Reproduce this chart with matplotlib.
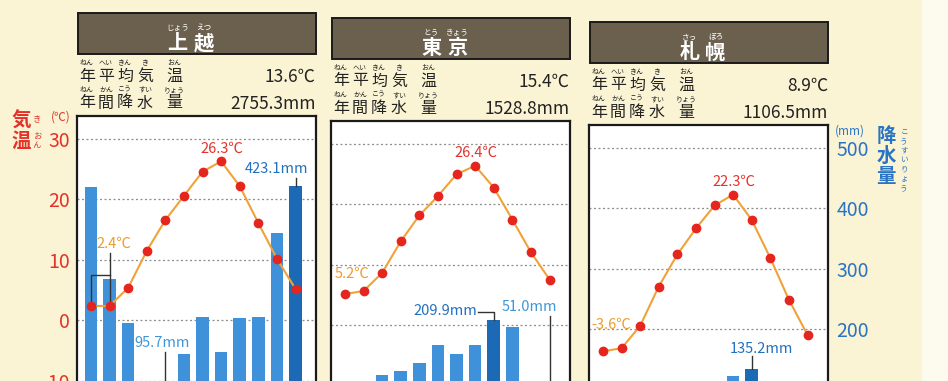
import numpy as np
import matplotlib.pyplot as plt
from matplotlib.patches import Rectangle

plt.rcParams['font.family'] = ['Noto Sans CJK JP', 'DejaVu Sans']
plt.rcParams['axes.unicode_minus'] = False

# --- data -------------------------------------------------------------
months = np.arange(12)

cities = ['上越', '東京', '札幌']
city_kana = [['じょう', 'えつ'], ['とう', 'きょう'], ['さっ', 'ぽろ']]
mean_temp = ['13.6℃', '15.4℃', '8.9℃']
annual_prec = ['2755.3mm', '1528.8mm', '1106.5mm']

joetsu_temp = [2.4, 2.4, 5.4, 11.5, 16.6, 20.6, 24.6, 26.3, 22.2, 16.1, 10.2, 5.2]
joetsu_prec = [421.0, 268.0, 196.0, 98.0, 95.7, 145.0, 206.0, 148.0, 204.0, 205.0, 345.0, 423.1]
tokyo_temp = [5.2, 5.7, 8.7, 13.9, 18.2, 21.4, 25.0, 26.4, 22.8, 17.5, 12.1, 7.6]
tokyo_prec = [52.3, 56.1, 117.5, 124.5, 137.8, 167.7, 153.5, 168.2, 209.9, 197.8, 92.5, 51.0]
sapporo_temp = [-3.6, -3.1, 0.6, 7.1, 12.4, 16.7, 20.5, 22.3, 18.1, 11.8, 4.9, -0.9]
sapporo_prec = [113.6, 94.0, 77.8, 56.8, 53.1, 46.8, 81.0, 123.8, 135.2, 108.7, 104.1, 111.7]

temps = [joetsu_temp, tokyo_temp, sapporo_temp]
precs = [joetsu_prec, tokyo_prec, sapporo_prec]

temp_ticks = [-10, 0, 10, 20, 30]
prec_ticks = [100, 200, 300, 400, 500]
prec_labels = ['', '200', '300', '400', '500']

row1 = ['年', '平', '均', '気', '温']
row1_kana = ['ねん', 'へい', 'きん', 'き', 'おん']
row2 = ['年', '間', '降', '水', '量']
row2_kana = ['ねん', 'かん', 'こう', 'すい', 'りょう']

# --- style ------------------------------------------------------------
W, H = 948, 381
BG = '#fbf4d4'
RED = '#e4322a'
ORANGE = '#eb9c2e'
LINE = '#f0a238'
BLUE = '#3f92da'
DBLUE = '#1c69b6'
TXT_DBLUE = '#2270c0'
TXT_LBLUE = '#3f97da'
AXBLUE = '#2a74c4'
BROWN = '#6b604e'

PXT = 10 / 60.5      # deg C per pixel
PXM = 100 / 60.5     # mm per pixel
TOP_T = 33.8

def fx(x):
    return x / W

def fy(y):
    return 1 - y / H

fig = plt.figure(figsize=(W / 100, H / 100), dpi=100)
fig.patch.set_facecolor(BG)
fig.add_artist(Rectangle((fx(922), 0), fx(W) - fx(922), 1, transform=fig.transFigure,
                         color='#fdfaee', zorder=0))

def ptext(x, y, s, **kw):
    kw.setdefault('ha', 'center')
    kw.setdefault('va', 'center')
    fig.text(fx(x), fy(y), s, **kw)

panel_x = [77, 331, 589]
panel_shift = [0, 5, 9]
pw = 239
ph = (TOP_T + 20) * 10 / PXM

axes = []
for i in range(3):
    x0, s = panel_x[i], panel_shift[i]
    top = 116 + s

    # header box
    fig.add_artist(Rectangle((fx(x0 + 1), fy(54 + s)), (pw - 1) / W, 41 / H,
                             transform=fig.transFigure, facecolor=BROWN,
                             edgecolor='#1a1a1a', lw=1.4))
    cx = x0 + pw / 2
    for k, off in enumerate([-19, 7]):
        ptext(cx + off, 43 + s, cities[i][k], color='white', fontsize=14.5, fontweight='bold')
        ptext(cx + off, 28 + s, city_kana[i][k], color='white', fontsize=5.5)

    for k, dx in enumerate([10, 29, 48, 68, 97]):
        ptext(x0 + dx, 76 + s, row1[k], fontsize=11.5, color='#222222')
        ptext(x0 + dx, 63 + s, row1_kana[k], fontsize=5, color='#222222')
        ptext(x0 + dx, 103 + s, row2[k], fontsize=11.5, color='#222222')
        ptext(x0 + dx, 90 + s, row2_kana[k], fontsize=5, color='#222222')
    ptext(x0 + pw, 77 + s, mean_temp[i], ha='right', fontsize=12.5, color='#222222')
    ptext(x0 + pw, 104 + s, annual_prec[i], ha='right', fontsize=12.5, color='#222222')

    ax = fig.add_axes([fx(x0), fy(top + ph), pw / W, ph / H])
    axp = ax.twinx()
    ax.set_zorder(axp.get_zorder() + 1)
    ax.patch.set_visible(False)
    axp.patch.set_visible(True)
    axp.patch.set_facecolor('white')

    ax.set_xlim(-0.75, 12.1)
    ax.set_ylim(-20, TOP_T)
    axp.set_ylim(0, (TOP_T + 20) * 10)

    prec = precs[i]
    imax = int(np.argmax(prec))
    colors = [DBLUE if m == imax else BLUE for m in months]
    axp.bar(months, prec, width=0.68, color=colors, zorder=2)
    axp.set_yticks(prec_ticks)
    axp.grid(axis='y', color='#8f8f8f', linestyle=(0, (1.6, 2.0)), lw=0.9)
    axp.set_axisbelow(True)

    ax.plot(months, temps[i], color=LINE, lw=1.5, zorder=3)
    ax.plot(months, temps[i], 'o', color='#e5261f', ms=6, zorder=4)

    for sp in ax.spines.values():
        sp.set_visible(False)
    for sp in axp.spines.values():
        sp.set_linewidth(1.6)
        sp.set_color('#1a1a1a')

    ax.tick_params(bottom=False, labelbottom=False, left=False, length=0)
    axp.tick_params(right=False, length=0)
    if i == 0:
        ax.set_yticks(temp_ticks)
        ax.set_yticklabels([str(t) for t in temp_ticks], color=RED, fontsize=14)
        ax.tick_params(axis='y', pad=5)
    else:
        ax.set_yticks([])
    if i == 2:
        axp.set_yticklabels(prec_labels, color=AXBLUE, fontsize=14)
        axp.tick_params(axis='y', pad=6)
    else:
        axp.set_yticklabels([])

    # max temperature label
    t = temps[i]
    jmax = int(np.argmax(t))
    ax.annotate(f'{t[jmax]}℃', (jmax, t[jmax]), xytext=(1, 13), textcoords='offset pixels',
                ha='center', va='center', color=RED, fontsize=10.5)
    axes.append((ax, axp))

lk = dict(color='#333333', lw=1.0)

# 上越
ax, axp = axes[0]
t, p = joetsu_temp, joetsu_prec
ax.plot([0, 0, 1], [t[0], t[0] + 31 * PXT, t[0] + 31 * PXT], zorder=2, **lk)
ax.plot([1, 1], [t[1], t[1] + 53 * PXT], zorder=2, **lk)
ax.annotate('2.4℃', (1, t[1]), xytext=(4, 62), textcoords='offset pixels',
            ha='center', va='center', color=ORANGE, fontsize=10.5)
axp.plot([11, 11], [p[11], p[11] + 8 * PXM], zorder=3, **lk)
axp.annotate('423.1mm', (11, p[11]), xytext=(-19, 17), textcoords='offset pixels',
             ha='center', va='center', color=TXT_DBLUE, fontsize=10.5)
axp.plot([4, 4], [p[4], p[4] + 32 * PXM], zorder=3, **lk)
axp.annotate('95.7mm', (4, p[4]), xytext=(-3, 41), textcoords='offset pixels',
             ha='center', va='center', color=TXT_LBLUE, fontsize=10.5)

# 東京
ax, axp = axes[1]
t, p = tokyo_temp, tokyo_prec
ax.annotate('5.2℃', (0, t[0]), xytext=(7, 20), textcoords='offset pixels',
            ha='center', va='center', color=ORANGE, fontsize=10.5)
yl = p[8] + 8 * PXM
axp.plot([8 - 16 / 18.6, 8, 8], [yl, yl, p[8]], zorder=3, **lk)
axp.annotate('209.9mm', (8, p[8]), xytext=(-17, 9), textcoords='offset pixels',
             ha='right', va='center', color=TXT_DBLUE, fontsize=10.5)
axp.plot([11, 11], [p[11], 216], zorder=3, **lk)
axp.annotate('51.0mm', (11, 230), xytext=(-20, 0), textcoords='offset pixels',
             ha='center', va='center', color=TXT_LBLUE, fontsize=10.5)

# 札幌
ax, axp = axes[2]
t, p = sapporo_temp, sapporo_prec
ax.annotate('-3.6℃', (0, t[0]), xytext=(8, 26), textcoords='offset pixels',
            ha='center', va='center', color=ORANGE, fontsize=10.5)
axp.plot([8, 8], [p[8], p[8] + 13 * PXM], zorder=3, **lk)
axp.annotate('135.2mm', (8, p[8]), xytext=(10, 20), textcoords='offset pixels',
             ha='center', va='center', color=TXT_DBLUE, fontsize=10.5)

# axis titles
ptext(21, 121, '気', color=RED, fontsize=14, fontweight='bold')
ptext(21, 141, '温', color=RED, fontsize=14, fontweight='bold')
ptext(37, 120, 'き', color=RED, fontsize=6)
ptext(37, 137, 'お', color=RED, fontsize=6)
ptext(37, 145, 'ん', color=RED, fontsize=6)
ptext(61, 117, '(℃)', color=RED, fontsize=8.5)

ptext(850, 131, '(mm)', color=AXBLUE, fontsize=8.5)
for k, ch in enumerate(['降', '水', '量']):
    ptext(886, 137 + k * 19.5, ch, color=AXBLUE, fontsize=14, fontweight='bold')
for k, ch in enumerate('こうすいりょう'):
    ptext(904, 132 + k * 9.3, ch, color=AXBLUE, fontsize=5.5)

fig.savefig('out.png', dpi=100, facecolor=BG)
